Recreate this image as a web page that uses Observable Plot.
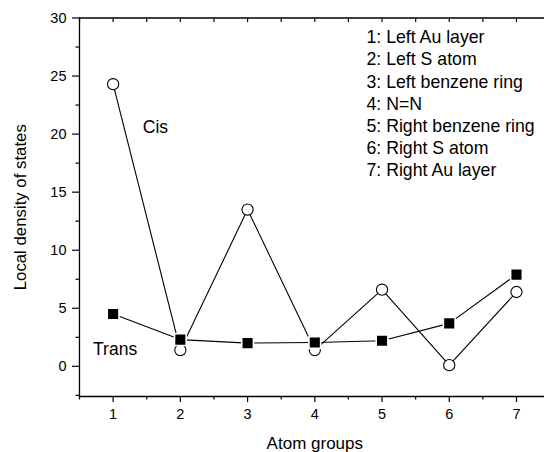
<!DOCTYPE html>
<html>
<head>
<meta charset="utf-8">
<script src="https://cdn.jsdelivr.net/npm/d3@7"></script>
<script src="https://cdn.jsdelivr.net/npm/@observablehq/plot@0.6"></script>
<style>
  html, body { margin: 0; padding: 0; background: #fff; }
  #chart svg { display: block; }
</style>
</head>
<body>
<div id="chart"></div>
<script>
// Data
const groups = [1, 2, 3, 4, 5, 6, 7];
const cisValues = [24.3, 1.4, 13.5, 1.4, 6.6, 0.1, 6.4];
const transValues = [4.5, 2.3, 2.0, 2.05, 2.2, 3.7, 7.9];
const xTicks = [1, 2, 3, 4, 5, 6, 7];
const xMinorTicks = [0.5, 1.5, 2.5, 3.5, 4.5, 5.5, 6.5, 7.5];
const yTicks = [0, 5, 10, 15, 20, 25, 30];
const yMinorTicks = [-2.5, 2.5, 7.5, 12.5, 17.5, 22.5, 27.5];
const legendLines = [
  "1: Left Au layer",
  "2: Left S atom",
  "3: Left benzene ring",
  "4: N=N",
  "5: Right benzene ring",
  "6: Right S atom",
  "7: Right Au layer"
];
const seriesLabels = [
  {name: "Cis", x: 1.63, y: 20.6},
  {name: "Trans", x: 1.03, y: 1.45}
];

const cis = groups.map((g, i) => ({x: g, y: cisValues[i]}));
const trans = groups.map((g, i) => ({x: g, y: transValues[i]}));
const topTicks = xTicks.concat(xMinorTicks);

const font = "'Liberation Sans', Arial, Helvetica, sans-serif";

const chart = Plot.plot({
  width: 544,
  height: 452,
  marginLeft: 79,
  marginRight: -5.6,
  marginTop: 17.5,
  marginBottom: 56,
  style: {fontFamily: font, fontSize: "14.5px", color: "#000", background: "#fff"},
  x: {domain: [0.5, 7.5]},
  y: {domain: [-2.6, 30]},
  marks: [
    Plot.frame({anchor: "left", stroke: "#000", strokeWidth: 1.3}),
    Plot.frame({anchor: "bottom", stroke: "#000", strokeWidth: 1.3}),
    Plot.frame({anchor: "top", stroke: "#000", strokeWidth: 1.3}),
    Plot.axisY({ticks: yTicks, tickSize: 7, tickPadding: 6, tickFormat: "d", label: null, fontSize: 14.5, strokeWidth: 1.2}),
    Plot.axisY({ticks: yMinorTicks, tickSize: 3.5, text: null, label: null, strokeWidth: 1.2}),
    Plot.axisX({ticks: xTicks, tickSize: 6, tickPadding: 6, tickFormat: "d", label: null, fontSize: 14.5, strokeWidth: 1.2}),
    Plot.axisX({ticks: xMinorTicks, tickSize: 3.5, text: null, label: null, strokeWidth: 1.2}),
    Plot.axisX({anchor: "top", ticks: topTicks, tickSize: -3.5, text: null, label: null, strokeWidth: 1.2}),
    Plot.lineY(cis, {x: "x", y: "y", stroke: "#000", strokeWidth: 1.1}),
    Plot.lineY(trans, {x: "x", y: "y", stroke: "#000", strokeWidth: 1.1}),
    Plot.dot(cis, {x: "x", y: "y", r: 5.6, fill: "#fff", stroke: "#000", strokeWidth: 1.1}),
    Plot.dot(trans, {x: "x", y: "y", symbol: "square", r: 6.6, fill: "#000", stroke: "#fff", strokeWidth: 1.6}),
    Plot.text(seriesLabels, {x: "x", y: "y", text: "name", fontSize: 17.5, textAnchor: "middle", lineAnchor: "middle", fill: "#000"}),
    Plot.text([legendLines.join("\n")], {frameAnchor: "top-left", dx: 287, dy: 9.5, textAnchor: "start", lineAnchor: "top", lineHeight: 1.254, fontSize: 17.7, fill: "#000"}),
    Plot.text(["Local density of states"], {frameAnchor: "left", dx: -59, rotate: -90, textAnchor: "middle", lineAnchor: "middle", fontSize: 16.8, fill: "#000"}),
    Plot.text(["Atom groups"], {frameAnchor: "bottom", dy: 47, textAnchor: "middle", lineAnchor: "middle", fontSize: 17, fill: "#000"})
  ]
});

document.getElementById("chart").appendChild(chart);
</script>
</body>
</html>
